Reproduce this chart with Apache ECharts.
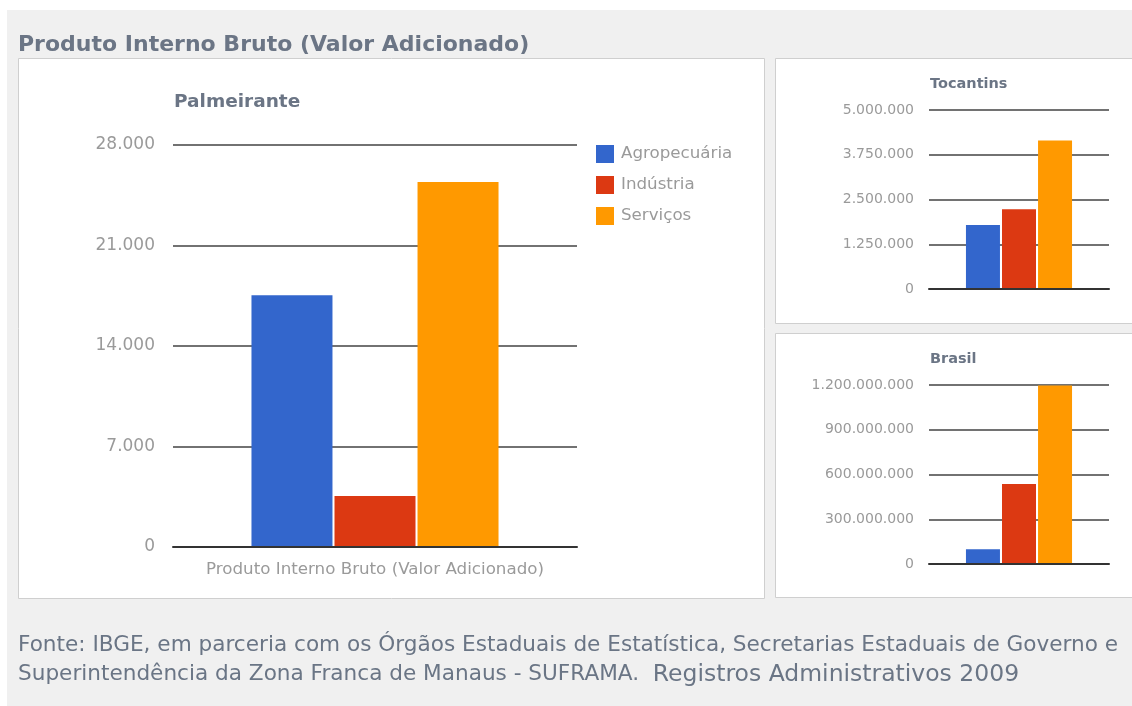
<!DOCTYPE html>
<html>
<head>
<meta charset="utf-8">
<script src="https://cdn.jsdelivr.net/npm/echarts@6/dist/echarts.min.js"></script>
<style>
html,body{margin:0;padding:0;background:#fff;}
#c{width:1132px;height:706px;}
</style>
</head>
<body>
<div id="c"></div>
<script>
const seriesNames = ['Agropecuária', 'Indústria', 'Serviços'];
const category = ['Produto Interno Bruto (Valor Adicionado)'];
const palmeirante = [17530, 3550, 25420];
const tocantins = [1790000, 2230000, 4150000];
const brasil = [99000000, 537000000, 1197000000];
const palmeiranteTicks = [0, 7000, 14000, 21000, 28000];
const tocantinsTicks = [0, 1250000, 2500000, 3750000, 5000000];
const brasilTicks = [0, 300000000, 600000000, 900000000, 1200000000];
const colors = ['#3366cc', '#dc3912', '#ff9900'];

const FONT = '"DejaVu Sans", sans-serif';
const fmt = v => String(v).replace(/\B(?=(\d{3})+(?!\d))/g, '.');

const chart = echarts.init(document.getElementById('c'), null, {renderer: 'canvas'});

const grids = [
  {left: 173, top: 145, width: 404, height: 402},
  {left: 929, top: 110, width: 180, height: 179},
  {left: 929, top: 385, width: 180, height: 179}
];
const tickSets = [palmeiranteTicks, tocantinsTicks, brasilTicks];
const dataSets = [palmeirante, tocantins, brasil];

const xAxes = grids.map((g, i) => ({
  type: 'category', gridIndex: i, data: category,
  axisTick: {show: false},
  axisLine: {show: true, lineStyle: {color: '#333', width: 2}},
  axisLabel: {show: i === 0, color: '#9a9a9a', fontSize: 16.7, fontFamily: FONT, margin: 14},
  z: 5
}));
const yAxes = grids.map((g, i) => {
  const t = tickSets[i];
  return {
    type: 'value', gridIndex: i, min: t[0], max: t[t.length - 1], interval: t[1] - t[0],
    axisLine: {show: false}, axisTick: {show: false},
    axisLabel: {color: '#9a9a9a', fontSize: i === 0 ? 17 : 14, fontFamily: FONT, margin: i === 0 ? 18 : 15, formatter: fmt},
    splitLine: {lineStyle: {color: '#727272', width: 2}}
  };
});
const series = [];
dataSets.forEach((d, i) => {
  seriesNames.forEach((n, j) => {
    series.push({
      type: 'bar', name: n, xAxisIndex: i, yAxisIndex: i,
      data: [d[j]],
      barWidth: i === 0 ? 81 : 34,
      barGap: i === 0 ? '2.5%' : '6%',
      itemStyle: {color: colors[j]},
      z: 3
    });
  });
});

const option = {
  animation: false,
  color: colors,
  textStyle: {fontFamily: FONT},
  graphic: [
    {type: 'rect', z: -100, shape: {x: 7, y: 10, width: 1130, height: 700}, style: {fill: '#f0f0f0'}},
    {type: 'rect', z: -99, shape: {x: 18.5, y: 58.5, width: 746, height: 540}, style: {fill: '#fff', stroke: '#cfcfcf', lineWidth: 1}},
    {type: 'rect', z: -99, shape: {x: 775.5, y: 58.5, width: 370, height: 265}, style: {fill: '#fff', stroke: '#cfcfcf', lineWidth: 1}},
    {type: 'rect', z: -99, shape: {x: 775.5, y: 333.5, width: 370, height: 264}, style: {fill: '#fff', stroke: '#cfcfcf', lineWidth: 1}},
    {type: 'text', left: 18, top: 631, style: {
      text: '{a|Fonte: IBGE, em parceria com os Órgãos Estaduais de Estatística, Secretarias Estaduais de Governo e}\n{a|Superintendência da Zona Franca de Manaus - SUFRAMA.}  {b|Registros Administrativos 2009}',
      fill: '#6a7585', font: '21.6px ' + FONT, lineHeight: 29,
      rich: {
        a: {fill: '#6a7585', fontSize: 21.6, fontFamily: FONT, lineHeight: 29},
        b: {fill: '#6a7585', fontSize: 23.5, fontFamily: FONT, lineHeight: 29}
      }
    }}
  ],
  title: [
    {text: 'Produto Interno Bruto (Valor Adicionado)', left: 18, top: 34, padding: 0,
      textStyle: {fontSize: 22, fontWeight: 'bold', color: '#6b7585', fontFamily: FONT}},
    {text: 'Palmeirante', left: 174, top: 93, padding: 0,
      textStyle: {fontSize: 18.5, fontWeight: 'bold', color: '#6b7585', fontFamily: FONT}},
    {text: 'Tocantins', left: 930, top: 77, padding: 0,
      textStyle: {fontSize: 14.5, fontWeight: 'bold', color: '#6b7585', fontFamily: FONT}},
    {text: 'Brasil', left: 930, top: 352, padding: 0,
      textStyle: {fontSize: 14.5, fontWeight: 'bold', color: '#6b7585', fontFamily: FONT}}
  ],
  legend: {
    data: seriesNames, orient: 'vertical', left: 596, top: 145, padding: 0,
    icon: 'rect', itemWidth: 18, itemHeight: 18, itemGap: 13,
    textStyle: {color: '#9a9a9a', fontSize: 16.7, fontFamily: FONT, padding: [0, 0, 0, 2]},
    selectedMode: false
  },
  grid: grids,
  xAxis: xAxes,
  yAxis: yAxes,
  series: series
};
chart.setOption(option);
</script>
</body>
</html>
